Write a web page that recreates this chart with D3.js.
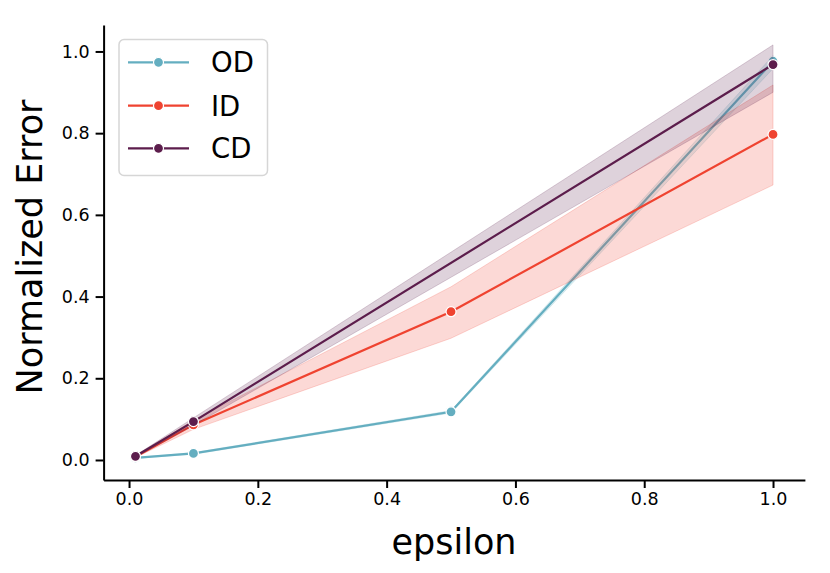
<!DOCTYPE html>
<html>
<head>
<meta charset="utf-8">
<script src="https://cdn.jsdelivr.net/npm/d3@7"></script>
<style>
  body { margin: 0; background: #fff; }
  svg { display: block; font-family: 'DejaVu Sans', sans-serif; }
</style>
</head>
<body>
<svg id="chart" width="830" height="573"></svg>
<script>
// values
const seriesNames = ['OD', 'ID', 'CD'];

const odEps = [0.01, 0.1, 0.5, 1.0];
const odMean = [0.005, 0.016, 0.118, 0.976];
const odLow = [0.004, 0.014, 0.115, 0.958];
const odHigh = [0.006, 0.018, 0.121, 0.99];

const idEps = [0.01, 0.1, 0.5, 1.0];
const idMean = [0.008, 0.086, 0.363, 0.797];
const idLow = [0.006, 0.075, 0.298, 0.673];
const idHigh = [0.010, 0.097, 0.424, 0.918];

const cdEps = [0.01, 0.1, 1.0];
const cdMean = [0.009, 0.094, 0.968];
const cdLow = [0.007, 0.085, 0.9];
const cdHigh = [0.011, 0.103, 1.016];

const xTicks = [0.0, 0.2, 0.4, 0.6, 0.8, 1.0];
const yTicks = [0.0, 0.2, 0.4, 0.6, 0.8, 1.0];

const COLORS = {
  OD: '#64aec0',
  ID: '#ef4330',
  CD: '#5c1d4c',
};

const build = (name, eps, mean, low, high) => ({
  name,
  points: eps.map((e, i) => ({ x: e, y: mean[i], lo: low[i], hi: high[i] })),
});

const series = [
  build('OD', odEps, odMean, odLow, odHigh),
  build('ID', idEps, idMean, idLow, idHigh),
  build('CD', cdEps, cdMean, cdLow, cdHigh),
];

const svg = d3.select('#chart');

const x = d3.scaleLinear().domain([-0.0395, 1.0495]).range([103.6, 804.9]);
const y = d3.scaleLinear().domain([-0.049, 1.065]).range([480, 24.9]);

// bands, lines and markers per series (drawn in hue order like seaborn)
const plot = svg.append('g');

const area = d3.area()
  .x((d) => x(d.x))
  .y0((d) => y(d.lo))
  .y1((d) => y(d.hi));

const line = d3.line()
  .x((d) => x(d.x))
  .y((d) => y(d.y));

series.forEach((s) => {
  const g = plot.append('g').attr('class', 'series-' + s.name);
  const c = COLORS[s.name];

  g.append('path')
    .datum(s.points)
    .attr('d', area)
    .attr('fill', c)
    .attr('fill-opacity', 0.2)
    .attr('stroke', c)
    .attr('stroke-opacity', 0.2)
    .attr('stroke-width', 1);

  g.append('path')
    .datum(s.points)
    .attr('d', line)
    .attr('fill', 'none')
    .attr('stroke', c)
    .attr('stroke-width', 2.2);

  g.selectAll('circle')
    .data(s.points)
    .enter().append('circle')
      .attr('cx', (d) => x(d.x))
      .attr('cy', (d) => y(d.y))
      .attr('r', 5)
      .attr('fill', c)
      .attr('stroke', '#fff')
      .attr('stroke-width', 1.2);
});

// axes
const xAxis = svg.append('g')
  .attr('transform', 'translate(0,480)')
  .call(d3.axisBottom(x).tickValues(xTicks).tickFormat(d3.format('.1f')).tickSize(8).tickSizeOuter(0).tickPadding(5));

const yAxis = svg.append('g')
  .attr('transform', 'translate(103.6,0)')
  .call(d3.axisLeft(y).tickValues(yTicks).tickFormat(d3.format('.1f')).tickSize(8).tickSizeOuter(0).tickPadding(6));

[xAxis, yAxis].forEach((a) => {
  a.select('.domain').attr('stroke', '#000').attr('stroke-width', 2);
  a.selectAll('.tick line').attr('stroke', '#000').attr('stroke-width', 2);
  a.selectAll('.tick text')
    .attr('fill', '#000')
    .style('font-family', "'DejaVu Sans', sans-serif")
    .style('font-size', '17.5px');
});

// axis labels
svg.append('text')
  .attr('x', 454)
  .attr('y', 554)
  .attr('text-anchor', 'middle')
  .style('font-size', '35px')
  .text('epsilon');

svg.append('text')
  .attr('transform', 'translate(41.5,247) rotate(-90)')
  .attr('text-anchor', 'middle')
  .style('font-size', '35px')
  .text('Normalized Error');

// legend
const legend = svg.append('g');

legend.append('rect')
  .attr('x', 119)
  .attr('y', 39.5)
  .attr('width', 148.5)
  .attr('height', 136)
  .attr('rx', 5)
  .attr('fill', '#fff')
  .attr('fill-opacity', 0.8)
  .attr('stroke', '#d6d6d6')
  .attr('stroke-width', 1.5);

const rows = [62.3, 105.7, 148.3];

const items = legend.selectAll('.item')
  .data(seriesNames)
  .enter().append('g')
    .attr('class', 'item')
    .attr('transform', (d, i) => `translate(0,${rows[i]})`);

items.append('line')
  .attr('x1', 128)
  .attr('x2', 189)
  .attr('stroke', (d) => COLORS[d])
  .attr('stroke-width', 2.2);

items.append('circle')
  .attr('cx', 158.5)
  .attr('r', 5)
  .attr('fill', (d) => COLORS[d])
  .attr('stroke', '#fff')
  .attr('stroke-width', 1.2);

items.append('text')
  .attr('x', 211)
  .attr('y', 10)
  .style('font-size', '27.5px')
  .text((d) => d);
</script>
</body>
</html>
